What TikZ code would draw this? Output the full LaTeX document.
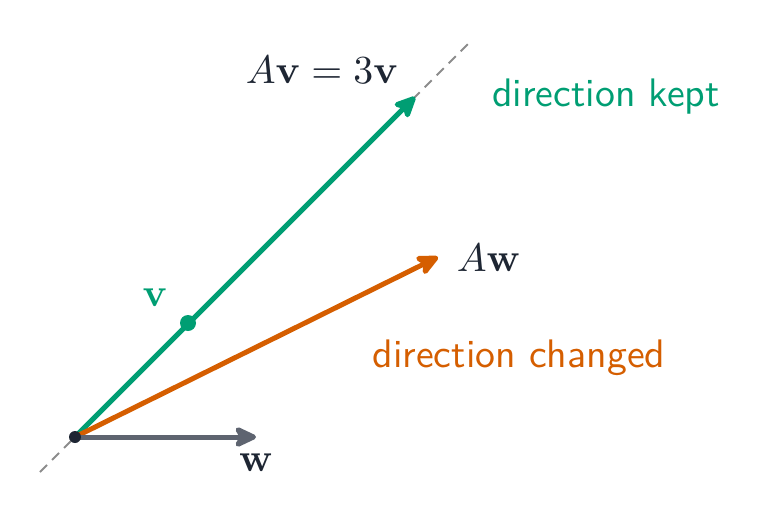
\documentclass[tikz,border=0pt]{standalone}
\usepackage{amsmath}
\usetikzlibrary{arrows.meta}
\definecolor{vgreen}{HTML}{009E73}
\definecolor{worange}{HTML}{D55E00}
\definecolor{wgray}{HTML}{5E6470}
\definecolor{ink}{HTML}{1E2633}
\tikzset{
  big/.style={scale=3.98, inner sep=0pt},
  vec/.style={line width=5pt, -{Stealth[round,length=27pt,width=25pt,inset=7pt]}},
}
\begin{document}
\begin{tikzpicture}[x=1pt,y=-1pt]
\useasboundingbox (0,0) rectangle (774,525);
\coordinate (O) at (75,437);
\coordinate (V) at (188,323);
\coordinate (AV) at (415,97);
\coordinate (W) at (256,437);
\coordinate (AW) at (438,257);
\coordinate (D1) at (40,472);
\coordinate (D2) at (472,40);
\draw[gray!90, line width=1.8pt, dash pattern=on 10pt off 7pt] (D1) -- (D2);
\draw[vec, vgreen] (O) -- (AV);
\draw[vec, worange] (O) -- (AW);
\draw[vec, wgray] (O) -- (W);
\fill[vgreen] (V) circle (8pt);
\fill[ink] (O) circle (6pt);
\node[big, text=ink] (lav) at (322,70) {$A\mathbf{v} = 3\mathbf{v}$};
\node[big, text=vgreen, font=\sffamily] (lkept) at (606,97) {direction kept};
\node[big, text=vgreen] (lv) at (155,298) {$\mathbf{v}$};
\node[big, text=ink, anchor=west] (law) at (456,258) {$A\mathbf{w}$};
\node[big, text=worange, font=\sffamily] (lchg) at (519,358) {direction changed};
\node[big, text=ink] (lw) at (256,463) {$\mathbf{w}$};
\end{tikzpicture}
\end{document}
